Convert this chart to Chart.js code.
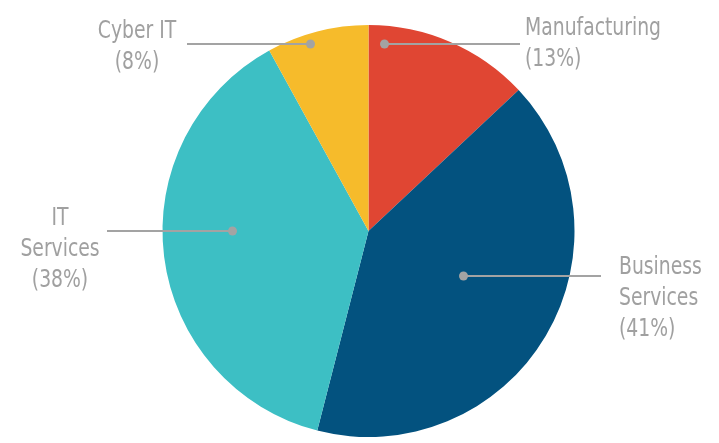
<!DOCTYPE html>
<html>
<head>
<meta charset="utf-8">
<script src="https://cdn.jsdelivr.net/npm/chart.js@4/dist/chart.umd.min.js"></script>
<style>
  html, body { margin: 0; padding: 0; background: #fff; }
  #wrap { width: 719px; height: 443px; }
</style>
</head>
<body>
<div id="wrap"><canvas id="sectorChart"></canvas></div>
<script>
const categories = [['Manufacturing'], ['Business', 'Services'], ['IT', 'Services'], ['Cyber IT']];
const shares = [13, 41, 38, 8];
const sliceColors = ['#E04633', '#03527F', '#3DBFC4', '#F6BB2B'];

// where each callout sits: dot offset from pie centre, text anchor, leader end
const callouts = [
    { dot: [16, -187], textX: 525, align: 'left', y0: 28, lineTo: 520 },
    { dot: [95, 45], textX: 619, align: 'left', y0: 267, lineTo: 601 },
    { dot: [-136, 0], textX: 60, align: 'center', y0: 218, lineTo: 107 },
    { dot: [-58, -187], textX: 137, align: 'center', y0: 31, lineTo: 187 }
];

const calloutPlugin = {
    id: 'callouts',
    afterDraw(chart) {
        const ctx = chart.ctx;
        const arc = chart.getDatasetMeta(0).data[0];
        const cx = arc.x, cy = arc.y;
        ctx.save();
        ctx.font = '24px "Liberation Sans Narrow", "DejaVu Sans Condensed", sans-serif';
        ctx.textBaseline = 'middle';
        categories.forEach((lines, i) => {
            const c = callouts[i];
            const dx = cx + c.dot[0], dy = cy + c.dot[1];
            ctx.strokeStyle = '#A3A3A3';
            ctx.lineWidth = 2;
            ctx.beginPath();
            ctx.moveTo(c.lineTo, dy);
            ctx.lineTo(dx, dy);
            ctx.stroke();
            ctx.fillStyle = '#A3A3A3';
            ctx.beginPath();
            ctx.arc(dx, dy, 4.5, 0, Math.PI * 2);
            ctx.fill();
            ctx.fillStyle = '#A0A0A0';
            ctx.textAlign = c.align;
            const all = lines.concat(['(' + shares[i] + '%)']);
            all.forEach((t, j) => {
                ctx.save();
                ctx.translate(c.textX, c.y0 + j * 31);
                ctx.scale(0.87, 1.05);
                ctx.fillText(t, 0, 0);
                ctx.restore();
            });
        });
        ctx.restore();
    }
};

const ctx = document.getElementById('sectorChart').getContext('2d');
new Chart(ctx, {
    type: 'pie',
    data: {
        labels: categories,
        datasets: [{
            data: shares,
            backgroundColor: sliceColors,
            borderWidth: 0
        }]
    },
    options: {
        responsive: true,
        maintainAspectRatio: false,
        animation: false,
        layout: {
            padding: { top: 25, bottom: 6, left: 162, right: 144 }
        },
        plugins: {
            legend: { display: false },
            tooltip: { enabled: false }
        }
    },
    plugins: [calloutPlugin]
});
</script>
</body>
</html>
